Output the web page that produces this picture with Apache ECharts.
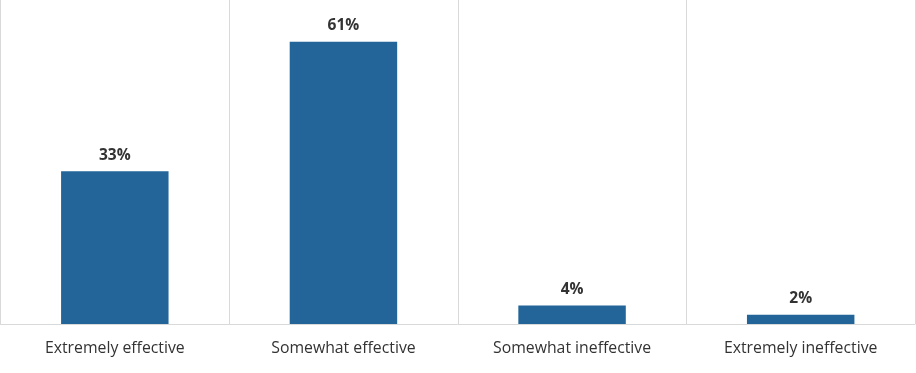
<!DOCTYPE html>
<html><head><meta charset="utf-8">
<script src="https://cdn.jsdelivr.net/npm/echarts@6/dist/echarts.min.js"></script>
<style>html,body{margin:0;padding:0;background:#fff}#c{width:916px;height:373px}</style>
</head><body><div id="c"></div>
<script>
const categories = ["Extremely effective", "Somewhat effective", "Somewhat ineffective", "Extremely ineffective"];
const values = [33, 61, 4, 2];
const chart = echarts.init(document.getElementById('c'));
chart.setOption({
  animation: false,
  grid: {left: 0.5, right: 1, top: 0, bottom: 49, containLabel: false},
  xAxis: {
    type: 'category', data: categories, boundaryGap: true,
    axisLine: {show: true, lineStyle: {color: '#d9d9d9', width: 1}},
    axisTick: {show: false},
    splitLine: {show: true, lineStyle: {color: '#d9d9d9', width: 1}},
    axisLabel: {color: '#333', fontFamily: 'Open Sans', fontSize: 15.8, margin: 16}
  },
  yAxis: {type: 'value', min: 0, max: 70, show: false, splitLine: {show: false}},
  series: [{
    type: 'bar', data: values, barWidth: '47%',
    itemStyle: {color: '#236598'},
    label: {show: true, position: 'top', formatter: '{c}%', color: '#333', fontWeight: 'bold', fontFamily: 'Open Sans', fontSize: 15.5, distance: 8}
  }]
});
</script></body></html>
